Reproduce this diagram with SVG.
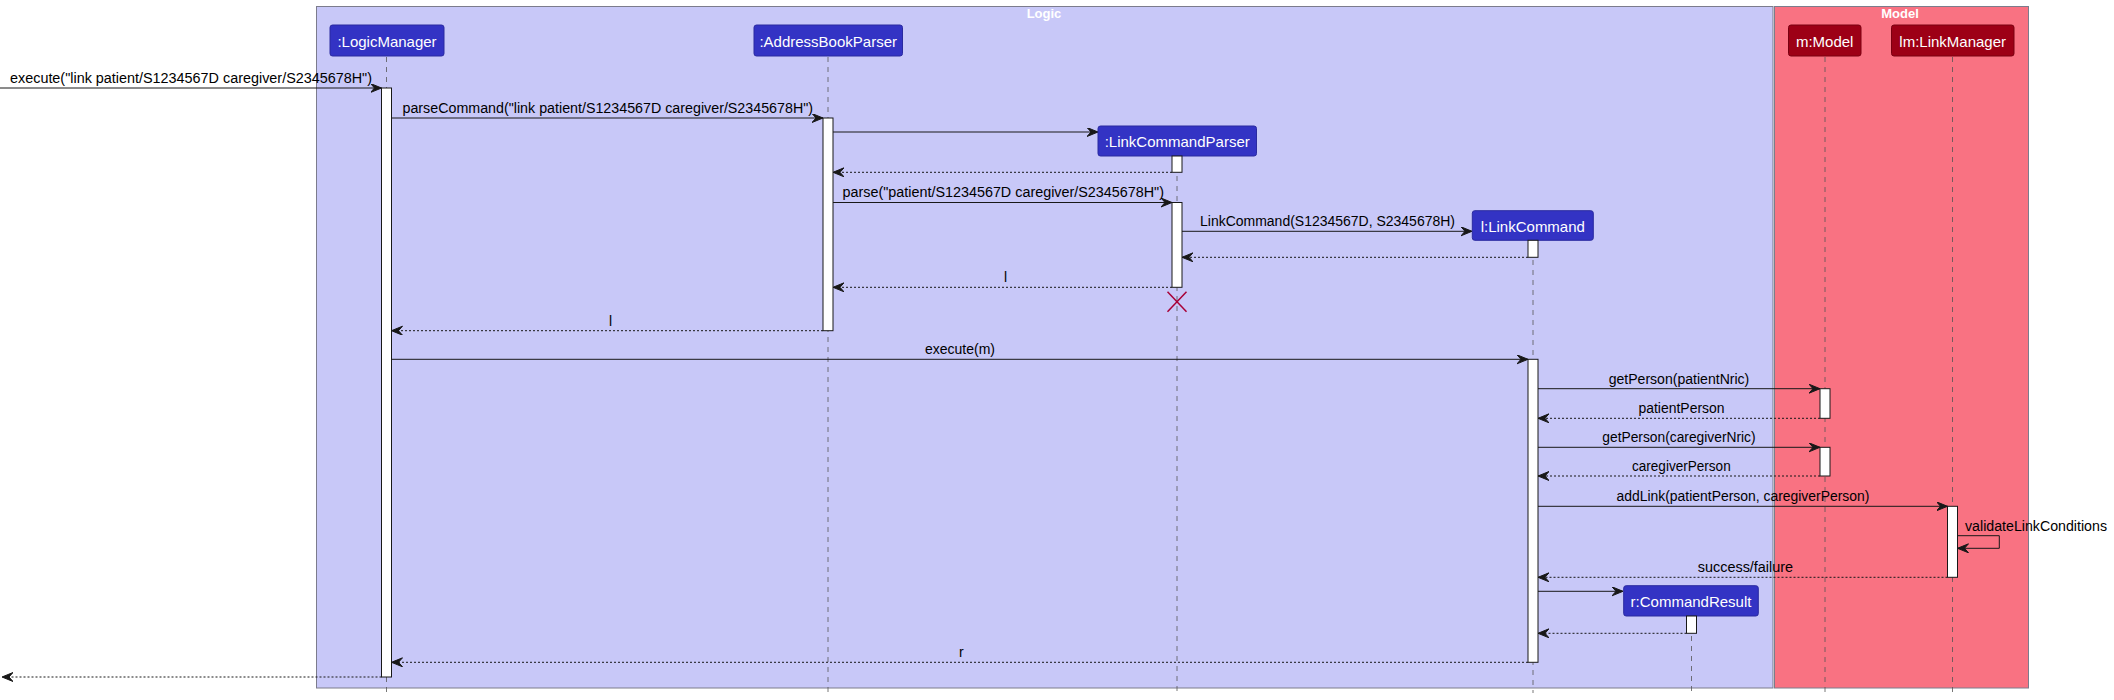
<svg xmlns="http://www.w3.org/2000/svg" width="2114" height="700" viewBox="0 0 2114 700">
<style>
  .frame-logic { fill: #C8C8F8; stroke: #7C7C8C; stroke-width: 1; }
  .frame-model { fill: #F97282; stroke: #7C7C8C; stroke-width: 1; }
  .ftitle { font-family: "Liberation Sans", Arial, sans-serif; font-size: 13px; font-weight: bold; fill: #FFFFFF; text-anchor: middle; }
  .pbox-l { fill: #3333C4; stroke: #2A2AA0; stroke-width: 1; }
  .pbox-m { fill: #9D0016; stroke: #7A0010; stroke-width: 1; }
  .ptext { font-family: "Liberation Sans", Arial, sans-serif; font-size: 15px; fill: #FFFFFF; text-anchor: middle; }
  .life { stroke: #555555; stroke-width: 0.8; stroke-dasharray: 5,5; fill: none; }
  .act { fill: #FFFFFF; stroke: #181818; stroke-width: 1; }
  .msg { stroke: #181818; stroke-width: 1; fill: none; marker-end: url(#arr); }
  .ret { stroke: #181818; stroke-width: 1; fill: none; stroke-dasharray: 2,2; marker-end: url(#arr); }
  .lbl { font-family: "Liberation Sans", Arial, sans-serif; font-size: 14px; fill: #000000; }
  .destroy { stroke: #A80036; stroke-width: 1.5; }
</style>
<defs>
  <marker id="arr" markerUnits="userSpaceOnUse" markerWidth="12" markerHeight="10" refX="11" refY="4.5" orient="auto" viewBox="0 0 12 10">
    <polygon points="0,0 11,4.5 0,9 4,4.5" fill="#181818" stroke="#181818" stroke-width="1"/>
  </marker>
</defs>

<g id="frame-logic">
  <rect class="frame-logic" x="316.5" y="6.5" width="1456.5" height="681.5"/>
  <text class="ftitle" x="1044" y="18">Logic</text>
</g>
<g id="frame-model">
  <rect class="frame-model" x="1774.5" y="6.5" width="254" height="681.5"/>
  <text class="ftitle" x="1900" y="18">Model</text>
</g>

<g id="lifelines">
  <line class="life" x1="386.5" y1="57" x2="386.5" y2="693"/>
  <line class="life" x1="828" y1="57" x2="828" y2="693"/>
  <line class="life" x1="1177" y1="156" x2="1177" y2="693"/>
  <line class="life" x1="1533" y1="240" x2="1533" y2="693"/>
  <line class="life" x1="1691.5" y1="616" x2="1691.5" y2="693"/>
  <line class="life" x1="1825" y1="57" x2="1825" y2="693"/>
  <line class="life" x1="1952.5" y1="57" x2="1952.5" y2="693"/>
</g>

<g id="connectors">
  <line class="msg" x1="0" y1="88" x2="381.5" y2="88"/>
  <text class="lbl" x="10" y="83" textLength="362" lengthAdjust="spacingAndGlyphs">execute("link patient/S1234567D caregiver/S2345678H")</text>

  <line class="msg" x1="391.5" y1="118" x2="823" y2="118"/>
  <text class="lbl" x="402.5" y="113" textLength="410.5" lengthAdjust="spacingAndGlyphs">parseCommand("link patient/S1234567D caregiver/S2345678H")</text>

  <line class="msg" x1="833" y1="132" x2="1098" y2="132"/>
  <line class="ret" x1="1172" y1="172.3" x2="833" y2="172.3"/>

  <line class="msg" x1="833" y1="202.5" x2="1172" y2="202.5"/>
  <text class="lbl" x="842.5" y="197" textLength="321.5" lengthAdjust="spacingAndGlyphs">parse("patient/S1234567D caregiver/S2345678H")</text>

  <line class="msg" x1="1182" y1="231.3" x2="1472" y2="231.3"/>
  <text class="lbl" x="1200" y="226" textLength="255" lengthAdjust="spacingAndGlyphs">LinkCommand(S1234567D, S2345678H)</text>

  <line class="ret" x1="1528" y1="257.3" x2="1182" y2="257.3"/>

  <line class="ret" x1="1172" y1="287.3" x2="833" y2="287.3"/>
  <text class="lbl" x="1004" y="282">l</text>

  <line class="ret" x1="823" y1="330.7" x2="391.5" y2="330.7"/>
  <text class="lbl" x="609" y="325.5">l</text>

  <line class="msg" x1="391.5" y1="359.3" x2="1528" y2="359.3"/>
  <text class="lbl" x="925" y="354" textLength="70" lengthAdjust="spacingAndGlyphs">execute(m)</text>

  <line class="msg" x1="1538" y1="388.7" x2="1820" y2="388.7"/>
  <text class="lbl" x="1608.7" y="383.5" textLength="140.6" lengthAdjust="spacingAndGlyphs">getPerson(patientNric)</text>

  <line class="ret" x1="1820" y1="418.3" x2="1538" y2="418.3"/>
  <text class="lbl" x="1638.5" y="413" textLength="86" lengthAdjust="spacingAndGlyphs">patientPerson</text>

  <line class="msg" x1="1538" y1="447.3" x2="1820" y2="447.3"/>
  <text class="lbl" x="1602.3" y="442" textLength="153.3" lengthAdjust="spacingAndGlyphs">getPerson(caregiverNric)</text>

  <line class="ret" x1="1820" y1="476" x2="1538" y2="476"/>
  <text class="lbl" x="1632" y="471" textLength="98.7" lengthAdjust="spacingAndGlyphs">caregiverPerson</text>

  <line class="msg" x1="1538" y1="506.3" x2="1947.5" y2="506.3"/>
  <text class="lbl" x="1616.5" y="501" textLength="252.9" lengthAdjust="spacingAndGlyphs">addLink(patientPerson, caregiverPerson)</text>

  <path class="msg" d="M1957.5,535.7 H1999.3 V548.3 H1957.5"/>
  <text class="lbl" x="1965" y="530.5" textLength="142" lengthAdjust="spacingAndGlyphs">validateLinkConditions</text>

  <line class="ret" x1="1947.5" y1="577.3" x2="1538" y2="577.3"/>
  <text class="lbl" x="1697.8" y="572" textLength="95.3" lengthAdjust="spacingAndGlyphs">success/failure</text>

  <line class="msg" x1="1538" y1="591.3" x2="1623" y2="591.3"/>
  <line class="ret" x1="1686.5" y1="633.3" x2="1538" y2="633.3"/>

  <line class="ret" x1="1528" y1="662.3" x2="391.5" y2="662.3"/>
  <text class="lbl" x="959" y="657">r</text>

  <line class="ret" x1="381.5" y1="677" x2="2" y2="677"/>
</g>

<g id="LogicManager">
  <rect class="pbox-l" x="330" y="25" width="114" height="31" rx="2.5"/>
  <text class="ptext" x="387" y="46.5">:LogicManager</text>
  <rect class="act" x="381.5" y="88" width="10" height="589"/>
</g>
<g id="AddressBookParser">
  <rect class="pbox-l" x="754" y="25" width="148.5" height="31" rx="2.5"/>
  <text class="ptext" x="828.2" y="46.5">:AddressBookParser</text>
  <rect class="act" x="823" y="118" width="10" height="212.7"/>
</g>
<g id="LinkCommandParser">
  <rect class="pbox-l" x="1098" y="126" width="158.5" height="30" rx="2.5"/>
  <text class="ptext" x="1177.2" y="147">:LinkCommandParser</text>
  <rect class="act" x="1172" y="156" width="10" height="16.3"/>
  <rect class="act" x="1172" y="202.5" width="10" height="84.8"/>
  <line class="destroy" x1="1167.5" y1="291.7" x2="1186.5" y2="311.7"/>
  <line class="destroy" x1="1186.5" y1="291.7" x2="1167.5" y2="311.7"/>
</g>
<g id="LinkCommand">
  <rect class="pbox-l" x="1472.3" y="210.7" width="121" height="29.6" rx="2.5"/>
  <text class="ptext" x="1532.8" y="231.5">l:LinkCommand</text>
  <rect class="act" x="1528" y="240.3" width="10" height="17"/>
  <rect class="act" x="1528" y="359.3" width="10" height="303"/>
</g>
<g id="CommandResult">
  <rect class="pbox-l" x="1623.7" y="585.7" width="134.6" height="30.3" rx="2.5"/>
  <text class="ptext" x="1691" y="606.5">r:CommandResult</text>
  <rect class="act" x="1686.5" y="616" width="10" height="17.3"/>
</g>
<g id="Model">
  <rect class="pbox-m" x="1788.5" y="25" width="72.5" height="31" rx="2.5"/>
  <text class="ptext" x="1824.7" y="46.5">m:Model</text>
  <rect class="act" x="1820" y="388.7" width="10" height="29.6"/>
  <rect class="act" x="1820" y="447.3" width="10" height="28.7"/>
</g>
<g id="LinkManager">
  <rect class="pbox-m" x="1891.5" y="25" width="122.5" height="31" rx="2.5"/>
  <text class="ptext" x="1952.7" y="46.5">lm:LinkManager</text>
  <rect class="act" x="1947.5" y="506.3" width="10" height="71"/>
</g>
</svg>
